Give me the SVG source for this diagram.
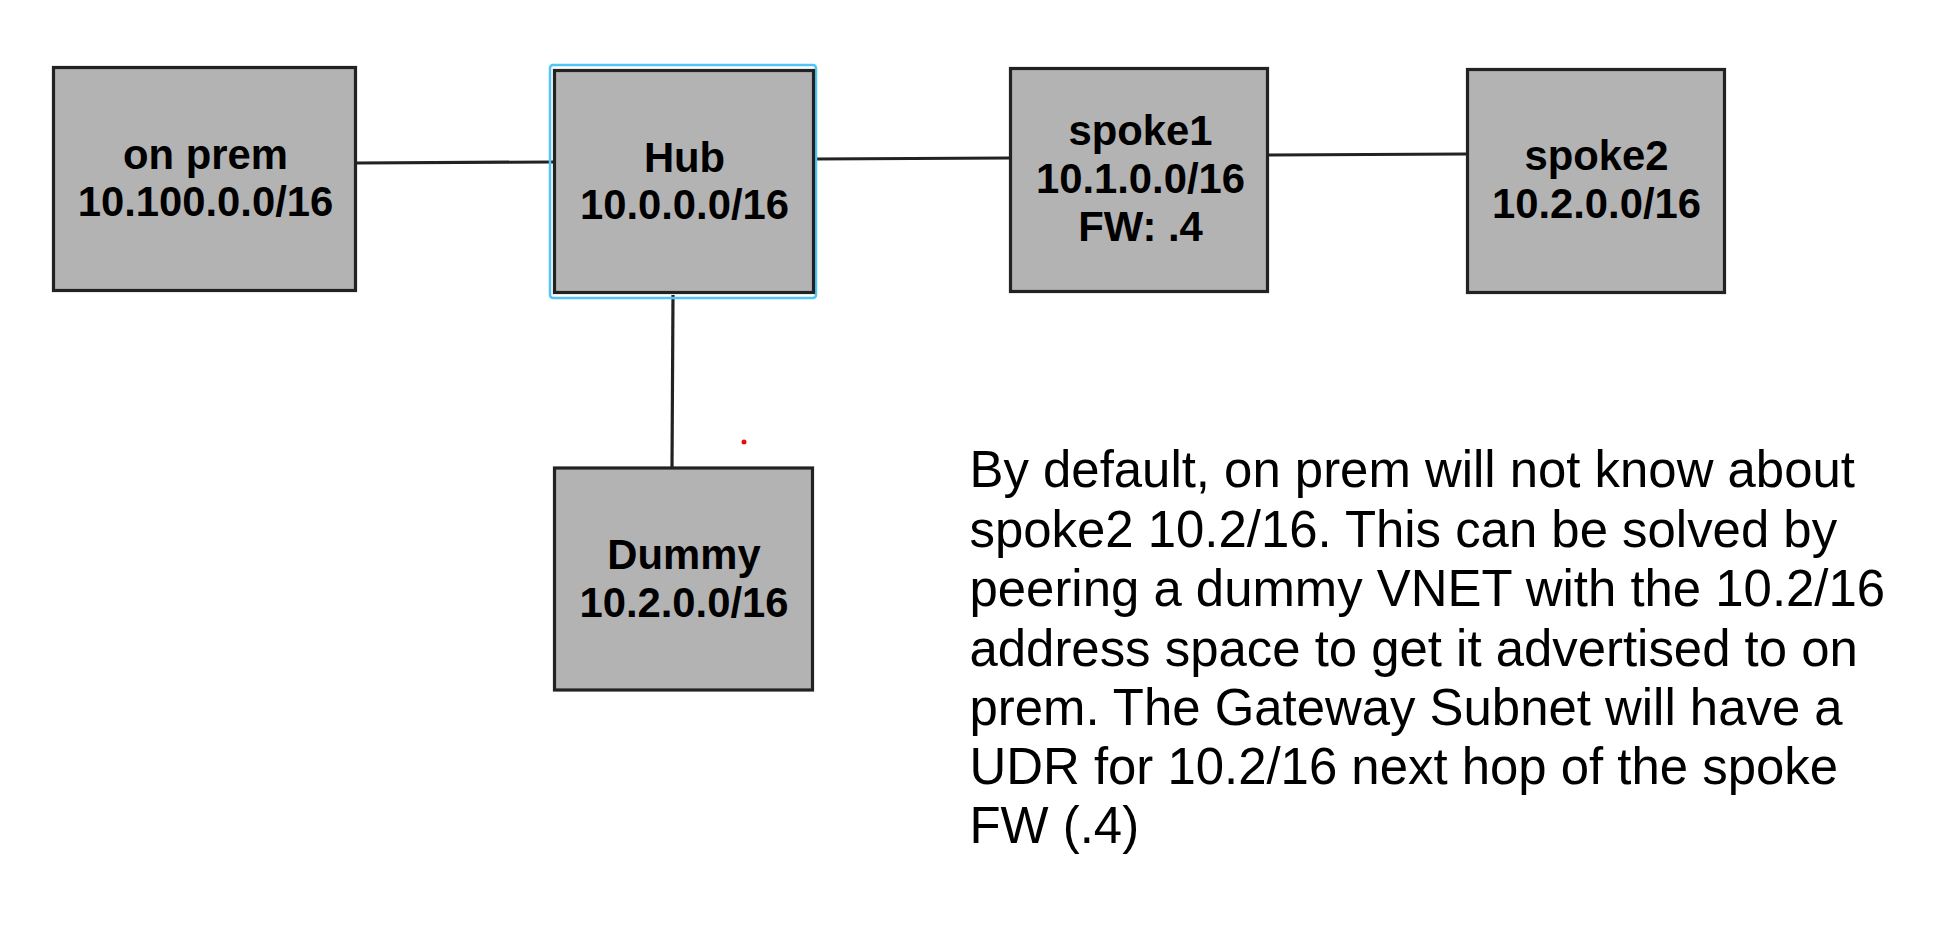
<svg xmlns="http://www.w3.org/2000/svg" width="1933" height="931" viewBox="0 0 1933 931">
<style>
.box{fill:#b3b3b3;stroke:#222;stroke-width:3.2}
.lbl{font-family:"Liberation Sans",Arial,Helvetica,sans-serif;font-weight:bold;font-size:41.8px;fill:#000;text-anchor:middle}
.edge{stroke:#222;stroke-width:3.2;fill:none}
.para{font-family:"Liberation Sans",Arial,Helvetica,sans-serif;font-size:50.9px;fill:#000}
</style>
<rect width="1933" height="931" fill="#fff"/>
<g id="connectors">
<line class="edge" x1="357" y1="163" x2="553" y2="162"/>
<line class="edge" x1="815" y1="159" x2="1009" y2="158"/>
<line class="edge" x1="1269" y1="155" x2="1466" y2="154"/>
<line class="edge" x1="673" y1="295" x2="672" y2="467"/>
</g>
<g id="onprem">
<rect class="box" x="53.5" y="67.5" width="302" height="223"/>
<text class="lbl" x="205.5" y="169">on prem</text>
<text class="lbl" x="205.5" y="216">10.100.0.0/16</text>
</g>
<g id="hub">
<rect x="550" y="65" width="266" height="233" rx="3" fill="none" stroke="#4fc6f5" stroke-width="2.5"/>
<rect class="box" x="554.5" y="70.5" width="259" height="222"/>
<text class="lbl" x="684.5" y="171.5">Hub</text>
<text class="lbl" x="684.5" y="219">10.0.0.0/16</text>
</g>
<g id="spoke1">
<rect class="box" x="1010.5" y="68.5" width="257" height="223"/>
<text class="lbl" x="1140.5" y="144.5">spoke1</text>
<text class="lbl" x="1140.5" y="192.5">10.1.0.0/16</text>
<text class="lbl" x="1140.5" y="241">FW: .4</text>
</g>
<g id="spoke2">
<rect class="box" x="1467.5" y="69.5" width="257" height="223"/>
<text class="lbl" x="1596.5" y="170">spoke2</text>
<text class="lbl" x="1596.5" y="218">10.2.0.0/16</text>
</g>
<g id="dummy">
<rect class="box" x="554.5" y="468" width="258" height="222"/>
<text class="lbl" x="684" y="569">Dummy</text>
<text class="lbl" x="684" y="617">10.2.0.0/16</text>
</g>
<circle cx="744" cy="442" r="2.5" fill="#e01010"/>
<g id="note">
<text class="para" x="969.5" y="487">By default, on prem will not know about</text>
<text class="para" x="969.5" y="546.5">spoke2 10.2/16. This can be solved by</text>
<text class="para" x="969.5" y="606">peering a dummy VNET with the 10.2/16</text>
<text class="para" x="969.5" y="665.5">address space to get it advertised to on</text>
<text class="para" x="969.5" y="725">prem. The Gateway Subnet will have a</text>
<text class="para" x="969.5" y="784">UDR for 10.2/16 next hop of the spoke</text>
<text class="para" x="969.5" y="843">FW (.4)</text>
</g>
</svg>
